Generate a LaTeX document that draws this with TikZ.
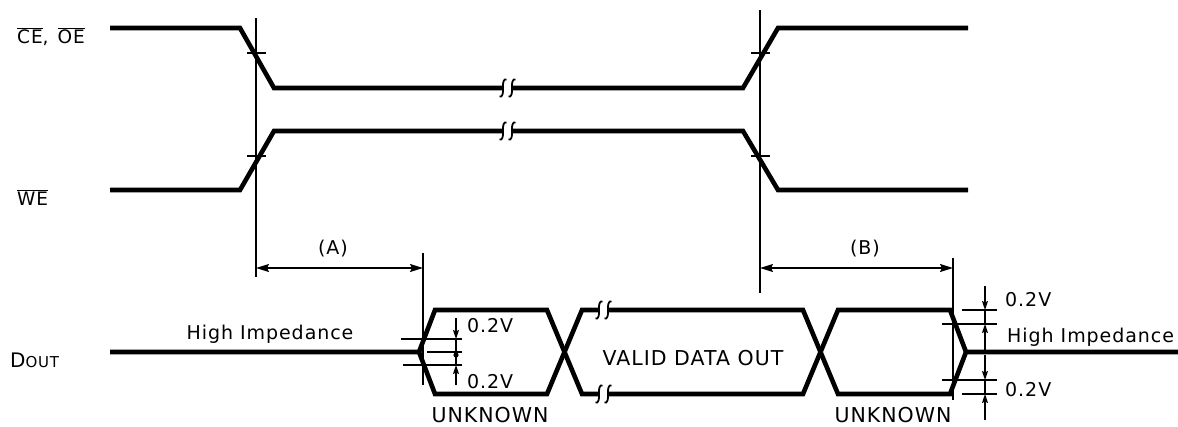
\documentclass[tikz,border=0pt]{standalone}
\usepackage{fontspec}
\setmainfont{DejaVu Sans}[LetterSpace=5]
\usetikzlibrary{arrows.meta}
\newcommand\ovl[1]{$\overline{\hbox{#1}}$}
\newcommand\brk[2]{%
  \fill[white] (#1,#2-3.5) rectangle (#1+9,#2+3.5);
  \foreach \dx in {0,9}{
    \draw[line width=1.8pt] (#1+\dx+3.5,#2-8.5) .. controls (#1+\dx+0.5,#2-10) and (#1+\dx-0.5,#2-4) .. (#1+\dx,#2)
      .. controls (#1+\dx+0.5,#2+4) and (#1+\dx-0.5,#2+10) .. (#1+\dx-3.5,#2+8.5);
  }}
\begin{document}
\begin{tikzpicture}[x=1pt,y=-1pt,
  sig/.style={line width=4.6pt, line join=miter},
  thin/.style={line width=1.4pt},
  dimarrow/.style={line width=1.4pt, {Stealth[length=13pt,width=8pt,inset=2pt]}-{Stealth[length=13pt,width=8pt,inset=2pt]}},
  small/.style={line width=1.4pt, -{Stealth[length=9pt,width=6pt,inset=1.5pt]}},
  lbl/.style={font=\fontsize{19}{21}\selectfont, inner sep=0pt, anchor=base},
  biglbl/.style={font=\fontsize{20.5}{23}\selectfont, inner sep=0pt, anchor=base},
  sidelbl/.style={font=\fontsize{18.5}{21}\selectfont, inner sep=0pt, anchor=base west},
]
\useasboundingbox (0,0) rectangle (1178,426);

% signal names
\node[sidelbl] (ceoe) at (17,43) {\ovl{CE},\hspace{9pt}\ovl{OE}};
\node[sidelbl] (we) at (17,205) {\ovl{WE}};
\node[sidelbl] (dout) at (10,367) {\fontsize{20}{22}\selectfont D\fontsize{15}{17}\selectfont OUT};

% CE/OE and WE waveforms
\draw[sig] (110,28) -- (240,28) -- (274,88) -- (743,88) -- (778,28) -- (968,28);
\draw[sig] (110,190) -- (240,190) -- (274,131) -- (743,131) -- (778,190) -- (968,190);
\brk{503}{88}
\brk{503}{131}

% reference verticals and ticks
\draw[thin] (256,18) -- (256,277);
\draw[thin] (760,10) -- (760,293);
\draw[thin] (247,53) -- (266,53);
\draw[thin] (247,156) -- (266,156);
\draw[thin] (751,53) -- (770,53);
\draw[thin] (751,156) -- (770,156);

% timing dimensions
\draw[dimarrow] (256,268) -- (423,268);
\node[lbl] (la) at (333,254) {(A)};
\draw[thin] (423,253) -- (423,385);
\draw[dimarrow] (760,268) -- (953,268);
\node[lbl] (lb) at (865,254) {(B)};
\draw[thin] (953,258) -- (953,400);

% DOUT waveform
\draw[sig] (110,352) -- (419,352) -- (435,310) -- (547,310) -- (582,394) -- (803,394) -- (838,310) -- (950,310) -- (966,352) -- (1178,352);
\draw[sig] (419,352) -- (435,394) -- (547,394) -- (582,310) -- (803,310) -- (838,394) -- (950,394) -- (966,352);
\brk{599}{310}
\brk{599}{394}

% left thresholds
\draw[thin] (401,339) -- (462,339);
\draw[thin] (403,365) -- (462,365);
\draw[thin] (427,352) -- (462,352);
\draw[small] (456,318) -- (456,339);
\draw[small] (456,385) -- (456,365);
\draw[thin] (456,339) -- (456,365);
\fill (456,355) circle (2.6);
\node[lbl, anchor=base west] (v1) at (467,332) {0.2V};
\node[lbl, anchor=base west] (v2) at (467,388) {0.2V};

% right thresholds
\draw[thin] (962,310) -- (997,310);
\draw[thin] (942,324) -- (997,324);
\draw[thin] (942,380) -- (997,380);
\draw[thin] (962,394) -- (997,394);
\draw[small] (985,286) -- (985,310);
\draw[thin] (985,310) -- (985,324);
\draw[small] (985,350) -- (985,324);
\draw[small] (985,355) -- (985,380);
\draw[thin] (985,380) -- (985,394);
\draw[small] (985,420) -- (985,394);
\node[lbl, anchor=base west] (v3) at (1005,306) {0.2V};
\node[lbl, anchor=base west] (v4) at (1005,396) {0.2V};

% texts
\node[lbl] (hz1) at (270,339) {High Impedance};
\node[lbl, anchor=base west] (hz2) at (1007,342) {High Impedance};
\node[biglbl] (valid) at (693,365.5) {VALID DATA OUT};
\node[biglbl] (unk1) at (490,422) {UNKNOWN};
\node[biglbl] (unk2) at (893,422) {UNKNOWN};
\end{tikzpicture}
\end{document}
